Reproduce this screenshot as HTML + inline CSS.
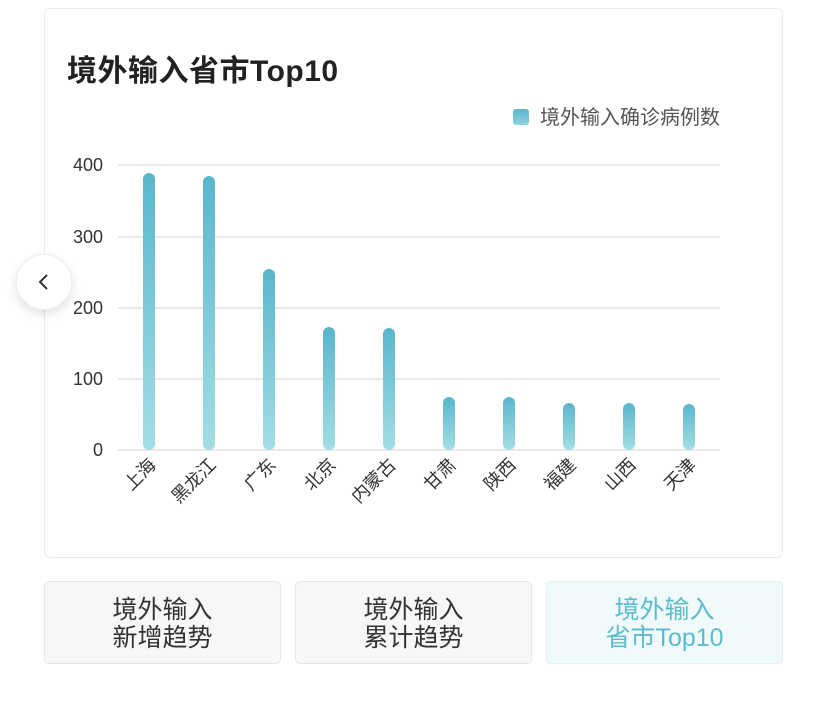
<!DOCTYPE html>
<html><head><meta charset="utf-8"><style>
body{margin:0;width:828px;height:702px;background:#fff;font-family:"Liberation Sans","Noto Sans CJK SC",sans-serif;position:relative;overflow:hidden}
.card{position:absolute;left:44px;top:8px;width:739px;height:550px;border:1px solid #ececec;border-radius:6px;box-sizing:border-box}
.title{position:absolute;left:67px;top:46px;font-size:30px;color:#222;font-weight:bold;letter-spacing:0.5px}
.btn{position:absolute;top:581px;width:237px;height:83px;border:1px solid #e6e6e6;border-radius:5px;background:#f7f7f7;box-sizing:border-box;text-align:center;font-size:25px;line-height:28px;color:#333;padding-top:14px}
.circ{position:absolute;left:16px;top:254px;width:56px;height:56px;border-radius:50%;background:#fff;box-shadow:0 4px 10px rgba(0,0,0,.12);border:1px solid #eee;box-sizing:border-box}
</style></head><body>
<div class="card"></div>
<div class="title">境外输入省市Top10</div>
<svg width="828" height="702" style="position:absolute;left:0;top:0">
<defs><linearGradient id="g" x1="0" y1="0" x2="0" y2="1"><stop offset="0" stop-color="#5ab6cc"/><stop offset="1" stop-color="#a4dde6"/></linearGradient>
<linearGradient id="l" x1="0" y1="0" x2="0" y2="1"><stop offset="0" stop-color="#5ab6cc"/><stop offset="1" stop-color="#8fd2de"/></linearGradient></defs>
<rect x="513" y="109" width="16" height="16" rx="3" fill="url(#l)"/>
<text x="540" y="124" font-size="20" fill="#555">境外输入确诊病例数</text>
<g stroke="#e2e2e2" stroke-width="1.5">
<line x1="118" y1="165" x2="720" y2="165"/><line x1="118" y1="237" x2="720" y2="237"/><line x1="118" y1="308" x2="720" y2="308"/><line x1="118" y1="379" x2="720" y2="379"/><line x1="118" y1="450" x2="720" y2="450"/></g>
<g font-size="18" fill="#333" text-anchor="end">
<text x="103" y="171">400</text><text x="103" y="243">300</text><text x="103" y="314">200</text><text x="103" y="385">100</text><text x="103" y="456">0</text></g>
<g fill="url(#g)">
<rect x="143" y="173" width="12" height="277" rx="6"/>
<rect x="203" y="176" width="12" height="274" rx="6"/>
<rect x="263" y="269" width="12" height="181" rx="6"/>
<rect x="323" y="327" width="12" height="123" rx="6"/>
<rect x="383" y="328" width="12" height="122" rx="6"/>
<rect x="443" y="397" width="12" height="53" rx="6"/>
<rect x="503" y="397" width="12" height="53" rx="6"/>
<rect x="563" y="403" width="12" height="47" rx="6"/>
<rect x="623" y="403" width="12" height="47" rx="6"/>
<rect x="683" y="404" width="12" height="46" rx="6"/></g>
<g font-size="18" fill="#333" text-anchor="end">
<text transform="translate(157,466) rotate(-45)">上海</text>
<text transform="translate(217,466) rotate(-45)">黑龙江</text>
<text transform="translate(277,466) rotate(-45)">广东</text>
<text transform="translate(337,466) rotate(-45)">北京</text>
<text transform="translate(397,466) rotate(-45)">内蒙古</text>
<text transform="translate(457,466) rotate(-45)">甘肃</text>
<text transform="translate(517,466) rotate(-45)">陕西</text>
<text transform="translate(577,466) rotate(-45)">福建</text>
<text transform="translate(637,466) rotate(-45)">山西</text>
<text transform="translate(697,466) rotate(-45)">天津</text></g>
</svg>
<div class="circ"><svg width="56" height="56" style="position:absolute;left:-1px;top:-1px"><polyline points="47,275 40,282 47,289" transform="translate(-16,-254)" fill="none" stroke="#333" stroke-width="2"/></svg></div>
<div class="btn" style="left:44px">境外输入<br>新增趋势</div>
<div class="btn" style="left:295px">境外输入<br>累计趋势</div>
<div class="btn" style="left:546px;background:#f1fafb;border-color:#dff0f3;color:#5bbccc">境外输入<br>省市Top10</div>
</body></html>
